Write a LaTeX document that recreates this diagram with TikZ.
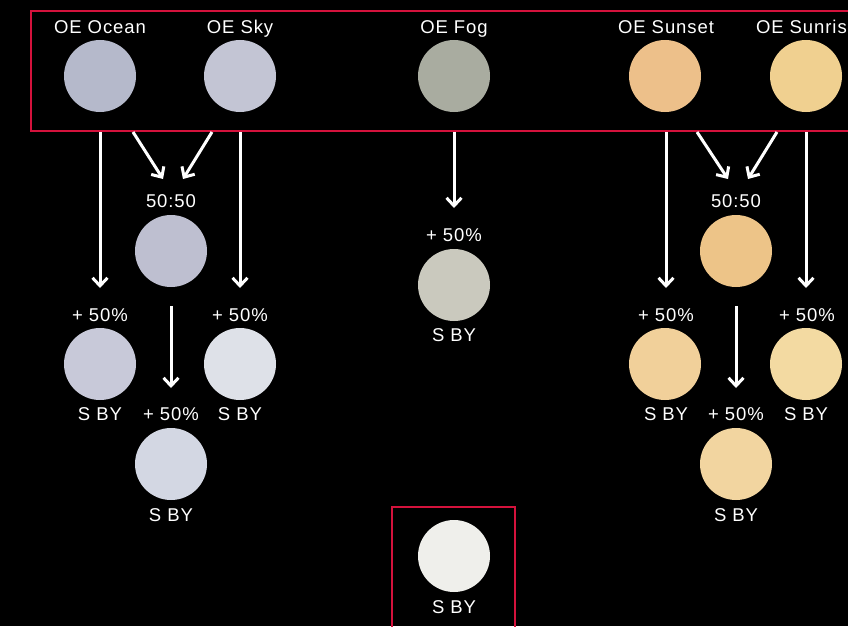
\documentclass[tikz,border=0pt]{standalone}
\usepackage{fontspec}
\setmainfont{Liberation Sans}
\usetikzlibrary{arrows.meta}
\definecolor{frame}{HTML}{D4123C}
\definecolor{ocean}{HTML}{B5B9CB}
\definecolor{sky}{HTML}{C3C5D4}
\definecolor{fog}{HTML}{A9ACA0}
\definecolor{sunset}{HTML}{EDC08A}
\definecolor{sunrise}{HTML}{F0D090}
\definecolor{mixL}{HTML}{BEBFD0}
\definecolor{oceanB}{HTML}{C8C9D9}
\definecolor{skyB}{HTML}{DEE1E8}
\definecolor{mixLB}{HTML}{D3D7E3}
\definecolor{fogB}{HTML}{CAC9BE}
\definecolor{mixR}{HTML}{EDC488}
\definecolor{sunsetB}{HTML}{F1D09A}
\definecolor{sunriseB}{HTML}{F3DAA2}
\definecolor{mixRB}{HTML}{F2D5A0}
\definecolor{base}{HTML}{EFEFEB}
\tikzset{
  swatch/.style={circle, minimum size=72pt, inner sep=0pt, draw=none},
  lbl/.style={text=white, font=\fontsize{18.5}{20}\selectfont\addfontfeature{LetterSpace=5},
    inner sep=0pt, text height=13pt, text depth=0pt},
  flow/.style={white, line width=3pt, -{Straight Barb[length=8pt,width=15pt,line width=3pt]}},
  box/.style={draw=frame, line width=2.4pt}
}
\begin{document}
\begin{tikzpicture}[x=1pt,y=-1pt]
\fill[black] (0,0) rectangle (848,626);
\useasboundingbox (0,0) rectangle (848,626);
\clip (0,0) rectangle (848,626);

% frames
\draw[box] (31,11) rectangle (870,131);
\draw[box] (392,507) rectangle (515,640);

% top row of base shades
\node[lbl] (tOcean) at (100,27) {OE Ocean};
\node[lbl] (tSky) at (240,27) {OE Sky};
\node[lbl] (tFog) at (454,27) {OE Fog};
\node[lbl] (tSunset) at (666,27) {OE Sunset};
\node[lbl] (tSunrise) at (807,27) {OE Sunrise};
\node[swatch, fill=ocean] (ocean) at (100,76) {};
\node[swatch, fill=sky] (sky) at (240,76) {};
\node[swatch, fill=fog] (fogc) at (454,76) {};
\node[swatch, fill=sunset] (sunset) at (665,76) {};
\node[swatch, fill=sunrise] (sunrise) at (806,76) {};

% left group
\node[lbl] (tMixL) at (171,201) {50:50};
\node[swatch, fill=mixL] (mixL) at (171,251) {};
\node[lbl] (tOceanB) at (100,315) {+ 50\%};
\node[swatch, fill=oceanB] (oceanB) at (100,364) {};
\node[lbl] (sOceanB) at (100,414) {S BY};
\node[lbl] (tSkyB) at (240,315) {+ 50\%};
\node[swatch, fill=skyB] (skyB) at (240,364) {};
\node[lbl] (sSkyB) at (240,414) {S BY};
\node[lbl] (tMixLB) at (171,414) {+ 50\%};
\node[swatch, fill=mixLB] (mixLB) at (171,464) {};
\node[lbl] (sMixLB) at (171,515) {S BY};

% middle group
\node[lbl] (tFogB) at (454,235) {+ 50\%};
\node[swatch, fill=fogB] (fogB) at (454,285) {};
\node[lbl] (sFogB) at (454,335) {S BY};

% right group
\node[lbl] (tMixR) at (736,201) {50:50};
\node[swatch, fill=mixR] (mixR) at (736,251) {};
\node[lbl] (tSunsetB) at (666,315) {+ 50\%};
\node[swatch, fill=sunsetB] (sunsetB) at (665,364) {};
\node[lbl] (sSunsetB) at (666,414) {S BY};
\node[lbl] (tSunriseB) at (807,315) {+ 50\%};
\node[swatch, fill=sunriseB] (sunriseB) at (806,364) {};
\node[lbl] (sSunriseB) at (806,414) {S BY};
\node[lbl] (tMixRB) at (736,414) {+ 50\%};
\node[swatch, fill=mixRB] (mixRB) at (736,464) {};
\node[lbl] (sMixRB) at (736,515) {S BY};

% pure base
\node[swatch, fill=base] (base) at (454,556) {};
\node[lbl] (sBase) at (454,607) {S BY};

% connector end points
\coordinate (oL1) at (100,132); \coordinate (oL2) at (133,132);
\coordinate (sL1) at (240,132); \coordinate (sL2) at (212,132);
\coordinate (fL) at (454,132);
\coordinate (oR1) at (666,132); \coordinate (oR2) at (697,132);
\coordinate (sR1) at (806,132); \coordinate (sR2) at (777,132);
\coordinate (mL) at (171,306); \coordinate (mR) at (736,306);
\coordinate (eOL) at (100,288); \coordinate (eSL) at (240,288);
\coordinate (eDL1) at (163,179); \coordinate (eDL2) at (183,179);
\coordinate (eML) at (171,388);
\coordinate (eF) at (454,208);
\coordinate (eOR) at (666,288); \coordinate (eSR) at (806,288);
\coordinate (eDR1) at (728,179); \coordinate (eDR2) at (748,179);
\coordinate (eMR) at (736,388);

\draw[flow] (oL1) -- (eOL);
\draw[flow] (sL1) -- (eSL);
\draw[flow] (oL2) -- (eDL1);
\draw[flow] (sL2) -- (eDL2);
\draw[flow] (mL) -- (eML);

\draw[flow] (fL) -- (eF);

\draw[flow] (oR1) -- (eOR);
\draw[flow] (sR1) -- (eSR);
\draw[flow] (oR2) -- (eDR1);
\draw[flow] (sR2) -- (eDR2);
\draw[flow] (mR) -- (eMR);
\end{tikzpicture}
\end{document}
